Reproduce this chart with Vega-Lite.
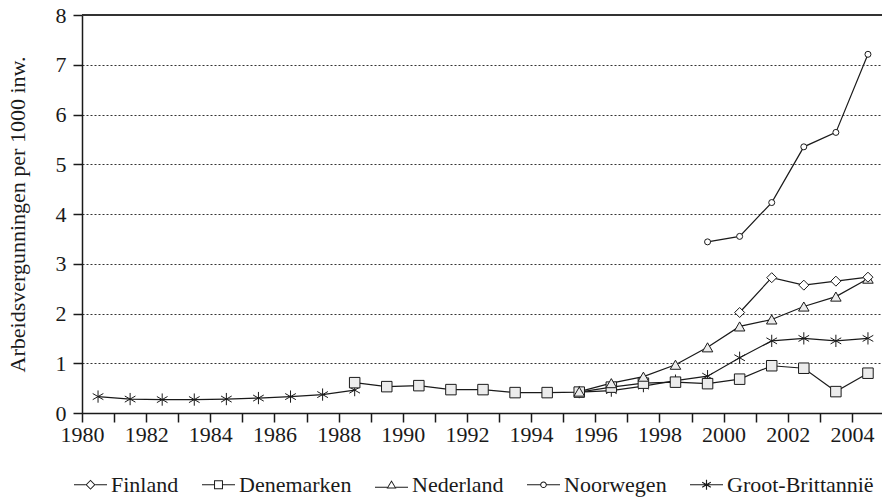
{
  "$schema": "https://vega.github.io/schema/vega-lite/v6.json",
  "width": 802,
  "height": 398,
  "autosize": {"type": "none"},
  "padding": {"left": 82, "top": 15, "right": 0, "bottom": 88},
  "background": "white",
  "config": {
    "view": {"stroke": null},
    "font": "Liberation Serif",
    "axis": {
      "domainColor": "#1a1a1a",
      "domainWidth": 1.5,
      "tickColor": "#1a1a1a",
      "tickWidth": 1.5,
      "tickSize": 9,
      "labelFont": "Liberation Serif",
      "labelFontSize": 22,
      "labelColor": "#1a1a1a",
      "titleFont": "Liberation Serif",
      "titleFontSize": 22,
      "titleFontWeight": "normal",
      "titleColor": "#1a1a1a"
    },
    "legend": {
      "labelFont": "Liberation Serif",
      "labelFontSize": 22,
      "labelColor": "#1a1a1a"
    }
  },
  "data": {
    "values": [
      {"jaar": 1980.5, "land": "Groot-Brittannië", "waarde": 0.33},
      {"jaar": 1981.5, "land": "Groot-Brittannië", "waarde": 0.28},
      {"jaar": 1982.5, "land": "Groot-Brittannië", "waarde": 0.27},
      {"jaar": 1983.5, "land": "Groot-Brittannië", "waarde": 0.27},
      {"jaar": 1984.5, "land": "Groot-Brittannië", "waarde": 0.28},
      {"jaar": 1985.5, "land": "Groot-Brittannië", "waarde": 0.30},
      {"jaar": 1986.5, "land": "Groot-Brittannië", "waarde": 0.33},
      {"jaar": 1987.5, "land": "Groot-Brittannië", "waarde": 0.37},
      {"jaar": 1988.5, "land": "Groot-Brittannië", "waarde": 0.46},
      {"jaar": 1989.5, "land": "Groot-Brittannië", "waarde": null},
      {"jaar": 1995.5, "land": "Groot-Brittannië", "waarde": 0.42},
      {"jaar": 1996.5, "land": "Groot-Brittannië", "waarde": 0.45},
      {"jaar": 1997.5, "land": "Groot-Brittannië", "waarde": 0.54},
      {"jaar": 1998.5, "land": "Groot-Brittannië", "waarde": 0.65},
      {"jaar": 1999.5, "land": "Groot-Brittannië", "waarde": 0.74},
      {"jaar": 2000.5, "land": "Groot-Brittannië", "waarde": 1.11},
      {"jaar": 2001.5, "land": "Groot-Brittannië", "waarde": 1.45},
      {"jaar": 2002.5, "land": "Groot-Brittannië", "waarde": 1.50},
      {"jaar": 2003.5, "land": "Groot-Brittannië", "waarde": 1.45},
      {"jaar": 2004.5, "land": "Groot-Brittannië", "waarde": 1.50},
      {"jaar": 1988.5, "land": "Denemarken", "waarde": 0.61},
      {"jaar": 1989.5, "land": "Denemarken", "waarde": 0.53},
      {"jaar": 1990.5, "land": "Denemarken", "waarde": 0.55},
      {"jaar": 1991.5, "land": "Denemarken", "waarde": 0.47},
      {"jaar": 1992.5, "land": "Denemarken", "waarde": 0.47},
      {"jaar": 1993.5, "land": "Denemarken", "waarde": 0.41},
      {"jaar": 1994.5, "land": "Denemarken", "waarde": 0.41},
      {"jaar": 1995.5, "land": "Denemarken", "waarde": 0.42},
      {"jaar": 1996.5, "land": "Denemarken", "waarde": 0.52},
      {"jaar": 1997.5, "land": "Denemarken", "waarde": 0.60},
      {"jaar": 1998.5, "land": "Denemarken", "waarde": 0.62},
      {"jaar": 1999.5, "land": "Denemarken", "waarde": 0.59},
      {"jaar": 2000.5, "land": "Denemarken", "waarde": 0.68},
      {"jaar": 2001.5, "land": "Denemarken", "waarde": 0.95},
      {"jaar": 2002.5, "land": "Denemarken", "waarde": 0.90},
      {"jaar": 2003.5, "land": "Denemarken", "waarde": 0.43},
      {"jaar": 2004.5, "land": "Denemarken", "waarde": 0.80},
      {"jaar": 1995.5, "land": "Nederland", "waarde": 0.43},
      {"jaar": 1996.5, "land": "Nederland", "waarde": 0.60},
      {"jaar": 1997.5, "land": "Nederland", "waarde": 0.73},
      {"jaar": 1998.5, "land": "Nederland", "waarde": 0.97},
      {"jaar": 1999.5, "land": "Nederland", "waarde": 1.32},
      {"jaar": 2000.5, "land": "Nederland", "waarde": 1.74},
      {"jaar": 2001.5, "land": "Nederland", "waarde": 1.88},
      {"jaar": 2002.5, "land": "Nederland", "waarde": 2.14},
      {"jaar": 2003.5, "land": "Nederland", "waarde": 2.34},
      {"jaar": 2004.5, "land": "Nederland", "waarde": 2.70},
      {"jaar": 2000.5, "land": "Finland", "waarde": 2.02},
      {"jaar": 2001.5, "land": "Finland", "waarde": 2.72},
      {"jaar": 2002.5, "land": "Finland", "waarde": 2.57},
      {"jaar": 2003.5, "land": "Finland", "waarde": 2.65},
      {"jaar": 2004.5, "land": "Finland", "waarde": 2.73},
      {"jaar": 1999.5, "land": "Noorwegen", "waarde": 3.44},
      {"jaar": 2000.5, "land": "Noorwegen", "waarde": 3.55},
      {"jaar": 2001.5, "land": "Noorwegen", "waarde": 4.23},
      {"jaar": 2002.5, "land": "Noorwegen", "waarde": 5.35},
      {"jaar": 2003.5, "land": "Noorwegen", "waarde": 5.64},
      {"jaar": 2004.5, "land": "Noorwegen", "waarde": 7.21}
    ]
  },
  "encoding": {
    "x": {
      "field": "jaar",
      "type": "quantitative",
      "scale": {"domain": [1980, 2005], "nice": false, "zero": false},
      "axis": {
        "title": null,
        "grid": false,
        "values": [1980, 1981, 1982, 1983, 1984, 1985, 1986, 1987, 1988, 1989, 1990, 1991, 1992, 1993, 1994, 1995, 1996, 1997, 1998, 1999, 2000, 2001, 2002, 2003, 2004],
        "labelExpr": "datum.value % 2 == 0 ? '' + datum.value : ''",
        "labelPadding": 2,
        "labelFlush": false,
        "labelOverlap": false
      }
    },
    "y": {
      "field": "waarde",
      "type": "quantitative",
      "scale": {"domain": [0, 8], "nice": false},
      "axis": {
        "title": "Arbeidsvergunningen per 1000 inw.",
        "values": [0, 1, 2, 3, 4, 5, 6, 7, 8],
        "grid": true,
        "gridDash": [2, 2],
        "gridColor": "#333333",
        "gridWidth": 1,
        "labelPadding": 7,
        "titlePadding": 26
      }
    }
  },
  "resolve": {"scale": {"shape": "independent", "fill": "independent"}},
  "layer": [
    {
      "mark": {"type": "rule", "color": "#333333", "strokeWidth": 1.5},
      "encoding": {"y": {"datum": 8}, "x": null}
    },
    {
      "mark": {"type": "line", "color": "#1a1a1a", "strokeWidth": 1.2, "invalid": "break-paths-show-domains"},
      "encoding": {"detail": {"field": "land"}}
    },
    {
      "transform": [{"filter": "false"}],
      "mark": {"type": "point", "filled": true, "opacity": 1},
      "encoding": {
        "shape": {
          "field": "land",
          "type": "nominal",
          "scale": {
            "domain": ["Finland", "Denemarken", "Nederland", "Noorwegen", "Groot-Brittannië"],
            "range": [
              "M-1,-0.035H-0.29V0.035H-1ZM0.29,-0.035H1V0.035H0.29ZM0,-0.3L0.3,0L0,0.3L-0.3,0ZM0,-0.22L-0.22,0L0,0.22L0.22,0Z",
              "M-1,-0.035H-0.27V0.035H-1ZM0.27,-0.035H1V0.035H0.27ZM-0.27,-0.27H0.27V0.27H-0.27ZM-0.21,-0.21V0.21H0.21V-0.21Z",
              "M-1,0.115H-0.26V0.185H-1ZM0.26,0.115H1V0.185H0.26ZM0,-0.28L0.3,0.22L-0.3,0.22ZM0,-0.16L-0.2,0.16L0.2,0.16Z",
              "M-1,-0.035H-0.19V0.035H-1ZM0.19,-0.035H1V0.035H0.19ZM-0.2,0A0.2,0.2 0 1,1 0.2,0A0.2,0.2 0 1,1 -0.2,0ZM-0.14,0A0.14,0.14 0 1,0 0.14,0A0.14,0.14 0 1,0 -0.14,0Z",
              "M-1,-0.035H1V0.035H-1ZM0.035,-0.3L0.035,0.3L-0.035,0.3L-0.035,-0.3ZM-0.2425,-0.1803L0.2775,0.1197L0.2425,0.1803L-0.2775,-0.1197ZM-0.2775,0.1197L0.2425,-0.1803L0.2775,-0.1197L-0.2425,0.1803Z"
            ]
          },
          "legend": {
            "title": null,
            "orient": "none",
            "direction": "horizontal",
            "legendX": -9,
            "legendY": 452,
            "symbolSize": 1089,
            "symbolOpacity": 1,
            "labelOffset": 3,
            "columnPadding": 20
          }
        },
        "fill": {
          "field": "land",
          "type": "nominal",
          "scale": {
            "domain": ["Finland", "Denemarken", "Nederland", "Noorwegen", "Groot-Brittannië"],
            "range": ["#1a1a1a", "#1a1a1a", "#1a1a1a", "#1a1a1a", "#1a1a1a"]
          },
          "legend": {
            "title": null,
            "orient": "none",
            "direction": "horizontal",
            "legendX": -9,
            "legendY": 452,
            "symbolSize": 1089,
            "symbolOpacity": 1,
            "labelOffset": 3,
            "columnPadding": 20
          }
        }
      }
    },
    {
      "mark": {
        "type": "point",
        "filled": true,
        "stroke": "#1a1a1a",
        "strokeWidth": 1,
        "opacity": 1,
        "fill": {"expr": "(datum.land === 'Finland' || datum.land === 'Noorwegen') ? 'white' : datum.land === 'Groot-Brittannië' ? 'transparent' : '#ececec'"},
        "size": {"expr": "datum.land === 'Noorwegen' ? 36 : datum.land === 'Groot-Brittannië' ? 150 : datum.land === 'Finland' ? 100 : 110"}
      },
      "encoding": {
        "shape": {
          "field": "land",
          "type": "nominal",
          "scale": {
            "domain": ["Finland", "Denemarken", "Nederland", "Noorwegen", "Groot-Brittannië"],
            "range": ["diamond", "square", "triangle-up", "circle", "M0,-1V1M-0.87,-0.5L0.87,0.5M-0.87,0.5L0.87,-0.5"]
          },
          "legend": null
        }
      }
    }
  ]
}
